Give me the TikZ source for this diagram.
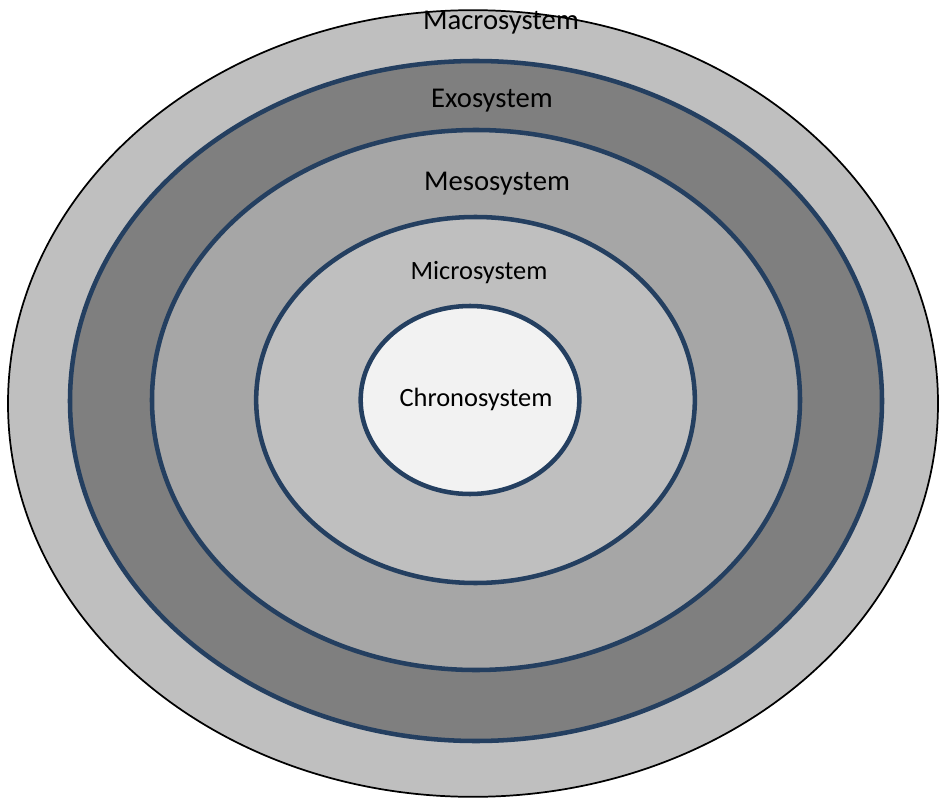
\documentclass[tikz,border=0pt]{standalone}
\usepackage{fontspec}
\setmainfont{Carlito}
\usepackage{tikz}
\usetikzlibrary{shapes.geometric,positioning}
\definecolor{ringblue}{RGB}{36,63,96}
\definecolor{lightgrey}{RGB}{191,191,191}
\definecolor{midgrey}{RGB}{166,166,166}
\definecolor{darkgrey}{RGB}{127,127,127}
\definecolor{paleshade}{RGB}{242,242,242}
\tikzstyle{ring} = [ellipse, inner sep=0pt, draw=ringblue, line width=3.4pt]
\tikzstyle{biglabel} = [inner sep=0pt, font=\fontsize{21.5}{24}\selectfont]
\tikzstyle{smalllabel} = [inner sep=0pt, font=\fontsize{19.8}{22}\selectfont]

\begin{document}
\begin{tikzpicture}[x=0.75pt, y=-0.75pt]
		\useasboundingbox (0,0) rectangle (940,799);
		\coordinate (macro) at (473,403.5);
		\coordinate (exo) at (476,401);
		\coordinate (meso) at (476,400);
		\coordinate (micro) at (475.5,400);
		\coordinate (chrono) at (470,400);
		% Systems (outer to inner)
		\node[name=macro, ellipse, inner sep=0pt, draw=black, line width=1.3pt, fill=lightgrey, minimum width=697.5pt, minimum height=590pt] at (macro) {};
		\begin{scope}[every node/.style={ring}]
		\node[name=exo, fill=darkgrey, minimum width=609pt, minimum height=510pt] at (exo) {};
		\node[name=meso, fill=midgrey, minimum width=486pt, minimum height=405pt] at (meso) {};
		\node[name=micro, fill=lightgrey, minimum width=329pt, minimum height=274.5pt] at (micro) {};
		\node[name=chrono, fill=paleshade, minimum width=164pt, minimum height=141pt] at (chrono) {};
		\end{scope}
		% Labels
		\node[biglabel, name=macrolabel] at (501,23) {Macrosystem};
		\node[biglabel, name=exolabel] at (492,101) {Exosystem};
		\node[biglabel, name=mesolabel] at (497,184) {Mesosystem};
		\node[smalllabel, name=microlabel] at (479,273) {Microsystem};
		\node[smalllabel, name=chronolabel] at (476,399) {Chronosystem};
\end{tikzpicture}
\end{document}
